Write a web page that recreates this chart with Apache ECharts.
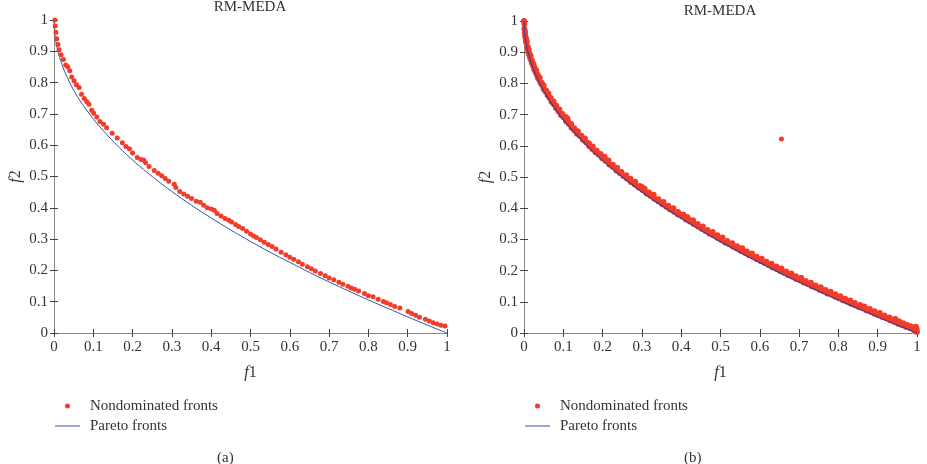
<!DOCTYPE html>
<html>
<head>
<meta charset="utf-8">
<title>RM-MEDA</title>
<script src="https://cdn.jsdelivr.net/npm/echarts@6/dist/echarts.min.js"></script>
<style>
  html, body { margin: 0; padding: 0; background: #fff; }
  #chart { width: 927px; height: 464px; }
</style>
</head>
<body>
<div id="chart"></div>
<script>
// tick labels of both axes
const tickValues = [0, 0.1, 0.2, 0.3, 0.4, 0.5, 0.6, 0.7, 0.8, 0.9, 1]

// true Pareto front
const paretoFront = [
  [0, 1], [0.001, 0.968], [0.004, 0.937], [0.01, 0.9], [0.02, 0.859], [0.035, 0.813],
  [0.05, 0.776], [0.07, 0.735], [0.1, 0.684], [0.135, 0.633], [0.174, 0.583], [0.217, 0.534],
  [0.262, 0.488], [0.312, 0.441], [0.362, 0.398], [0.412, 0.358], [0.462, 0.32], [0.512, 0.284],
  [0.562, 0.25], [0.612, 0.218], [0.662, 0.186], [0.712, 0.156], [0.762, 0.127], [0.812, 0.099],
  [0.862, 0.072], [0.912, 0.045], [0.962, 0.019], [1, 0]
]

// panel (a): nondominated points
const frontA = [
  [0.002, 1.0], [0.003, 0.981], [0.005, 0.961], [0.007, 0.940], [0.010, 0.922], [0.013, 0.905],
  [0.018, 0.889], [0.024, 0.874], [0.030, 0.856], [0.035, 0.851], [0.040, 0.838], [0.045, 0.818],
  [0.051, 0.806], [0.057, 0.793], [0.064, 0.784], [0.070, 0.763], [0.077, 0.749], [0.083, 0.740],
  [0.089, 0.731], [0.096, 0.712], [0.101, 0.702], [0.109, 0.690], [0.117, 0.676], [0.126, 0.667],
  [0.134, 0.656], [0.148, 0.638], [0.161, 0.623], [0.174, 0.608], [0.183, 0.596], [0.192, 0.589],
  [0.200, 0.575], [0.212, 0.561], [0.221, 0.554], [0.228, 0.553], [0.233, 0.544], [0.242, 0.532],
  [0.255, 0.519], [0.265, 0.510], [0.274, 0.502], [0.283, 0.494], [0.292, 0.485], [0.306, 0.475],
  [0.310, 0.465], [0.320, 0.452], [0.330, 0.444], [0.340, 0.437], [0.350, 0.430], [0.362, 0.421],
  [0.372, 0.418], [0.381, 0.408], [0.390, 0.400], [0.400, 0.396], [0.408, 0.392], [0.415, 0.382],
  [0.425, 0.374], [0.435, 0.366], [0.445, 0.360], [0.452, 0.355], [0.462, 0.347], [0.470, 0.340],
  [0.480, 0.334], [0.490, 0.325], [0.500, 0.316], [0.508, 0.310], [0.515, 0.305], [0.525, 0.298],
  [0.535, 0.290], [0.545, 0.283], [0.555, 0.276], [0.565, 0.268], [0.578, 0.258], [0.590, 0.250],
  [0.600, 0.242], [0.610, 0.236], [0.622, 0.228], [0.632, 0.220], [0.645, 0.212], [0.655, 0.205],
  [0.665, 0.198], [0.678, 0.190], [0.690, 0.183], [0.700, 0.176], [0.712, 0.170], [0.725, 0.162],
  [0.735, 0.156], [0.748, 0.149], [0.756, 0.144], [0.765, 0.140], [0.775, 0.134], [0.790, 0.126],
  [0.800, 0.119], [0.812, 0.116], [0.825, 0.108], [0.838, 0.101], [0.846, 0.097], [0.856, 0.091],
  [0.867, 0.085], [0.880, 0.080], [0.901, 0.069], [0.910, 0.062], [0.920, 0.057], [0.930, 0.050],
  [0.945, 0.044], [0.955, 0.038], [0.965, 0.033], [0.975, 0.029], [0.985, 0.025], [0.995, 0.022]
]

// panel (b): nondominated points, lower edge of the dense band
const frontB = [
  [0.000, 1.000], [0.001, 0.990], [0.001, 0.975], [0.002, 0.962], [0.003, 0.952], [0.004, 0.946],
  [0.005, 0.936], [0.006, 0.931], [0.008, 0.918], [0.010, 0.909], [0.012, 0.896], [0.014, 0.890],
  [0.016, 0.881], [0.018, 0.875], [0.020, 0.865], [0.023, 0.857], [0.026, 0.845], [0.029, 0.838],
  [0.032, 0.829], [0.035, 0.819], [0.038, 0.813], [0.042, 0.802], [0.046, 0.795], [0.050, 0.782],
  [0.055, 0.774], [0.060, 0.762], [0.065, 0.754], [0.070, 0.741], [0.076, 0.733], [0.082, 0.720],
  [0.088, 0.711], [0.094, 0.699], [0.100, 0.692], [0.107, 0.679], [0.110, 0.688], [0.114, 0.671],
  [0.121, 0.658], [0.128, 0.650], [0.135, 0.639], [0.142, 0.632], [0.150, 0.619], [0.158, 0.611],
  [0.166, 0.599], [0.174, 0.590], [0.182, 0.579], [0.190, 0.572], [0.199, 0.560], [0.205, 0.565],
  [0.208, 0.552], [0.217, 0.540], [0.226, 0.533], [0.235, 0.521], [0.244, 0.513], [0.253, 0.503],
  [0.262, 0.495], [0.272, 0.484], [0.282, 0.476], [0.292, 0.466], [0.300, 0.468], [0.302, 0.458],
  [0.312, 0.447], [0.322, 0.440], [0.332, 0.430], [0.342, 0.422], [0.352, 0.413], [0.362, 0.405],
  [0.372, 0.396], [0.382, 0.389], [0.392, 0.380], [0.402, 0.373], [0.412, 0.364], [0.415, 0.372],
  [0.422, 0.357], [0.432, 0.349], [0.442, 0.342], [0.452, 0.334], [0.462, 0.327], [0.472, 0.319],
  [0.482, 0.313], [0.492, 0.305], [0.502, 0.298], [0.512, 0.290], [0.522, 0.285], [0.532, 0.277],
  [0.542, 0.271], [0.552, 0.263], [0.555, 0.272], [0.562, 0.257], [0.572, 0.250], [0.582, 0.244],
  [0.592, 0.237], [0.602, 0.231], [0.612, 0.224], [0.622, 0.218], [0.632, 0.211], [0.642, 0.206],
  [0.652, 0.199], [0.662, 0.193], [0.672, 0.186], [0.682, 0.181], [0.692, 0.174], [0.702, 0.169],
  [0.705, 0.176], [0.712, 0.162], [0.722, 0.157], [0.732, 0.150], [0.742, 0.146], [0.752, 0.139],
  [0.762, 0.134], [0.772, 0.127], [0.782, 0.123], [0.792, 0.116], [0.802, 0.111], [0.812, 0.105],
  [0.822, 0.100], [0.832, 0.094], [0.842, 0.089], [0.852, 0.083], [0.862, 0.079], [0.865, 0.085],
  [0.872, 0.072], [0.882, 0.068], [0.892, 0.062], [0.902, 0.057], [0.912, 0.051], [0.922, 0.047],
  [0.932, 0.041], [0.942, 0.036], [0.945, 0.045], [0.952, 0.030], [0.962, 0.026], [0.972, 0.020],
  [0.982, 0.016], [0.992, 0.010], [0.997, 0.020], [0.998, 0.008], [0.999, 0.014], [1.000, 0.003]
]

// panel (b): middle of the dense band
const frontBMiddle = [
  [0.005, 0.943], [0.0095, 0.917], [0.0145, 0.894], [0.020, 0.873], [0.027, 0.850], [0.035, 0.828],
  [0.045, 0.802], [0.056, 0.777], [0.068, 0.753], [0.082, 0.728], [0.097, 0.703], [0.112, 0.679],
  [0.128, 0.656], [0.146, 0.632], [0.165, 0.608], [0.185, 0.584], [0.205, 0.561], [0.226, 0.539],
  [0.248, 0.516], [0.271, 0.494], [0.295, 0.471], [0.318, 0.450], [0.342, 0.429], [0.367, 0.408],
  [0.392, 0.388], [0.417, 0.368], [0.442, 0.349], [0.467, 0.330], [0.492, 0.313], [0.517, 0.295],
  [0.542, 0.278], [0.567, 0.261], [0.592, 0.244], [0.617, 0.228], [0.642, 0.213], [0.667, 0.197],
  [0.692, 0.182], [0.717, 0.167], [0.742, 0.152], [0.767, 0.138], [0.792, 0.124], [0.817, 0.110],
  [0.842, 0.096], [0.867, 0.083], [0.892, 0.070], [0.917, 0.056], [0.942, 0.043], [0.965, 0.031],
  [0.983, 0.022], [0.995, 0.015]
]

// panel (b): upper edge of the dense band
const frontBUpper = [
  [0.003, 0.965], [0.007, 0.935], [0.012, 0.908], [0.017, 0.888], [0.024, 0.862], [0.031, 0.842],
  [0.040, 0.818], [0.050, 0.793], [0.062, 0.768], [0.075, 0.742], [0.090, 0.716], [0.105, 0.693],
  [0.120, 0.670], [0.137, 0.647], [0.155, 0.623], [0.175, 0.598], [0.195, 0.574], [0.215, 0.553],
  [0.237, 0.530], [0.260, 0.506], [0.283, 0.485], [0.307, 0.462], [0.330, 0.443], [0.355, 0.420],
  [0.380, 0.400], [0.405, 0.380], [0.430, 0.361], [0.455, 0.341], [0.480, 0.324], [0.505, 0.306],
  [0.530, 0.288], [0.555, 0.271], [0.580, 0.255], [0.605, 0.238], [0.630, 0.222], [0.655, 0.207],
  [0.680, 0.191], [0.705, 0.176], [0.730, 0.161], [0.755, 0.147], [0.780, 0.132], [0.805, 0.118],
  [0.830, 0.104], [0.855, 0.090], [0.880, 0.077], [0.905, 0.064], [0.930, 0.050], [0.955, 0.037],
  [0.975, 0.026], [0.990, 0.018]
]

// panel (b): the single stray point
const outlierB = [[0.655, 0.622]]

const RED = '#f33b2a'
const BLUE = '#3555a5'
const FONT = '"Liberation Serif", "DejaVu Serif", serif'
const TEXT = '#333'

function xAxisPair(grid) {
  return [
    {
      gridIndex: grid, type: 'value', min: 0, max: 1, interval: 0.1, position: 'bottom',
      name: '{i|f}1', nameLocation: 'middle', nameGap: 32,
      nameTextStyle: { fontFamily: FONT, fontSize: 16, color: TEXT, rich: { i: { fontStyle: 'italic', fontFamily: FONT, fontSize: 16, color: TEXT } } },
      axisLine: { show: true, lineStyle: { color: '#444', width: 1 } },
      axisTick: { show: true, inside: true, length: 4, lineStyle: { color: '#444' } },
      axisLabel: { margin: 7, fontFamily: FONT, fontSize: 15, color: TEXT, formatter: v => tickValues.includes(+v.toFixed(1)) ? String(+v.toFixed(1)) : '' },
      splitLine: { show: false }
    },
    {
      gridIndex: grid, type: 'value', min: 0, max: 1, interval: 0.1, position: 'top',
      axisLine: { show: true, lineStyle: { color: '#888', width: 1 } },
      axisTick: { show: true, inside: true, length: 4, lineStyle: { color: '#444' } },
      axisLabel: { show: false },
      splitLine: { show: false }
    }
  ]
}

function yAxisPair(grid) {
  return [
    {
      gridIndex: grid, type: 'value', min: 0, max: 1, interval: 0.1, position: 'left',
      name: '{i|f}2', nameLocation: 'middle', nameGap: 30, nameRotate: 90,
      nameTextStyle: { fontFamily: FONT, fontSize: 16, color: TEXT, rich: { i: { fontStyle: 'italic', fontFamily: FONT, fontSize: 16, color: TEXT } } },
      axisLine: { show: true, lineStyle: { color: '#444', width: 1 } },
      axisTick: { show: true, inside: true, length: 4, lineStyle: { color: '#444' } },
      axisLabel: { margin: 6, fontFamily: FONT, fontSize: 15, color: TEXT, formatter: v => String(+v.toFixed(1)) },
      splitLine: { show: false }
    },
    {
      gridIndex: grid, type: 'value', min: 0, max: 1, interval: 0.1, position: 'right',
      axisLine: { show: true, lineStyle: { color: '#888', width: 1 } },
      axisTick: { show: true, inside: true, length: 4, lineStyle: { color: '#444' } },
      axisLabel: { show: false },
      splitLine: { show: false }
    }
  ]
}

function legendAt(left) {
  return {
    left: left, top: 396, orient: 'vertical', itemGap: 0, padding: 0,
    itemWidth: 25, itemHeight: 5,
    selectedMode: false,
    textStyle: { fontFamily: FONT, fontSize: 15, color: TEXT, lineHeight: 20, padding: [0, 0, 0, 5] },
    data: [
      { name: 'Nondominated fronts', icon: 'circle' },
      { name: 'Pareto fronts', icon: 'path://M0,0 L25,0 L25,1 L0,1 Z', itemStyle: { color: BLUE } }
    ]
  }
}

const options = {
  animation: false,
  backgroundColor: '#fff',
  title: [
    { text: 'RM-MEDA', left: 250, top: 0, padding: 0, textAlign: 'center', textStyle: { fontFamily: FONT, fontSize: 15, fontWeight: 'normal', color: TEXT } },
    { text: 'RM-MEDA', left: 720, top: 4, padding: 0, textAlign: 'center', textStyle: { fontFamily: FONT, fontSize: 15, fontWeight: 'normal', color: TEXT } }
  ],
  legend: [legendAt(55), legendAt(525)],
  grid: [
    { left: 54, top: 20, width: 393, height: 313 },
    { left: 524, top: 21, width: 393, height: 312 }
  ],
  xAxis: [...xAxisPair(0), ...xAxisPair(1)],
  yAxis: [...yAxisPair(0), ...yAxisPair(1)],
  graphic: [
    { type: 'text', left: 217, top: 451, style: { text: '(a)', font: '15px ' + FONT, fill: TEXT } },
    { type: 'text', left: 684, top: 451, style: { text: '(b)', font: '15px ' + FONT, fill: TEXT } }
  ],
  series: [
    {
      name: 'Pareto fronts', type: 'line', xAxisIndex: 0, yAxisIndex: 0,
      data: paretoFront, showSymbol: false, symbol: 'none', smooth: 0.3,
      lineStyle: { color: BLUE, width: 1 }, itemStyle: { color: BLUE }, z: 2
    },
    {
      name: 'Nondominated fronts', type: 'scatter', xAxisIndex: 0, yAxisIndex: 0,
      data: frontA, symbolSize: 5, itemStyle: { color: RED, opacity: 1 }, z: 3
    },
    {
      name: 'Nondominated fronts', type: 'scatter', xAxisIndex: 2, yAxisIndex: 2,
      data: frontB.concat(frontBMiddle, frontBUpper), symbolSize: 6, itemStyle: { color: RED, opacity: 1 }, z: 2
    },
    {
      name: 'Nondominated fronts', type: 'scatter', xAxisIndex: 2, yAxisIndex: 2,
      data: outlierB, symbolSize: 5, itemStyle: { color: RED, opacity: 1 }, z: 2
    },
    {
      name: 'Pareto fronts', type: 'line', xAxisIndex: 2, yAxisIndex: 2,
      data: paretoFront, showSymbol: false, symbol: 'none', smooth: 0.3,
      lineStyle: { color: '#4b3d8c', width: 1.2 }, itemStyle: { color: BLUE }, z: 3
    }
  ]
}

const chart = echarts.init(document.getElementById('chart'), null, { renderer: 'canvas' })
chart.setOption(options)
window.addEventListener('resize', () => {
  chart.resize()
})
</script>
</body>
</html>
